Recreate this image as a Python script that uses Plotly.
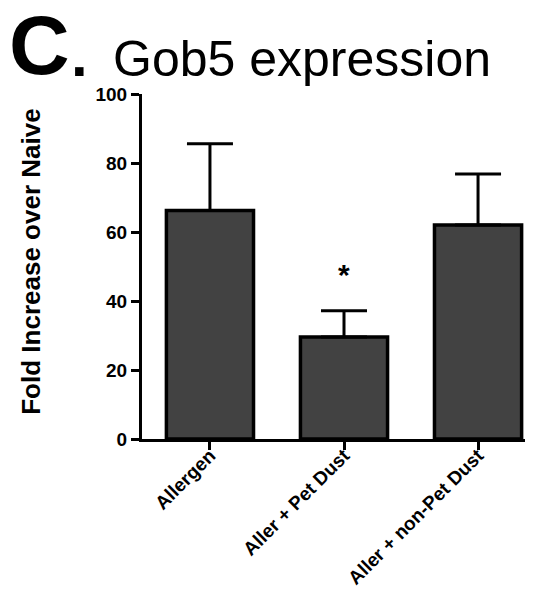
import plotly.graph_objects as go

categories = ["Allergen", "Aller + Pet Dust", "Aller + non-Pet Dust"]
means = [66.2, 29.6, 62.0]
errors = [19.4, 7.6, 14.8]
significance = ["", "*", ""]
y_ticks = [0, 20, 40, 60, 80, 100]

# page offset (body margin) in the browser
OX, OY = 8, 8
W, H = 525, 588
L, R, T, B = 134, 0, 86, 156.5

FONT = "Arial, Liberation Sans"
ASC = 0.905
DESC = 0.212

fig = go.Figure()
fig.add_trace(go.Bar(
    x=categories, y=means, width=0.65,
    marker=dict(color="#424242", line=dict(color="black", width=3.5)),
    error_y=dict(type="data", array=errors, arrayminus=[0] * len(errors),
                 symmetric=False, color="black", thickness=3, width=23),
    showlegend=False,
))

pw = W - L - R
ph = H - T - B

def px_x(p):
    return (p - OX - L) / pw

def px_y(p):
    return (H - B - (p - OY)) / ph

def top_for_baseline(baseline, size, pad=0):
    return baseline - pad - ASC * size

annotations = []
for c, m, e, s in zip(categories, means, errors, significance):
    if s:
        annotations.append(dict(x=c, y=m + e + 10.5, xref="x", yref="y", text=s,
                                showarrow=False, font=dict(size=30, color="black",
                                family=FONT, weight="bold")))

annotations += [
    dict(x=px_x(8), y=px_y(75 + DESC * 84), xref="paper", yref="paper",
         xanchor="left", yanchor="bottom", borderpad=0, height=80, valign="bottom",
         text="<b>C</b>", showarrow=False,
         font=dict(size=84, color="black", family=FONT)),
    dict(x=px_x(69.5), y=px_y(top_for_baseline(75, 60)), xref="paper", yref="paper",
         xanchor="left", yanchor="top", borderpad=0,
         text="<b>.</b>", showarrow=False,
         font=dict(size=60, color="black", family=FONT)),
    dict(x=px_x(112), y=px_y(top_for_baseline(75, 50)), xref="paper", yref="paper",
         xanchor="left", yanchor="top", borderpad=0,
         text="Gob5 expression", showarrow=False,
         font=dict(size=50, color="black", family=FONT)),
    dict(x=px_x(31), y=px_y(262), xref="paper", yref="paper", xanchor="center", yanchor="middle",
         text="<b>Fold Increase over Naive</b>", textangle=-90, showarrow=False,
         font=dict(size=26, color="black", family=FONT)),
]

fig.update_layout(
    width=W, height=H,
    margin=dict(l=L, r=R, t=T, b=B, autoexpand=False),
    paper_bgcolor="white", plot_bgcolor="white",
    annotations=annotations,
)
fig.update_xaxes(
    range=[-0.507, 2.41], showline=True, linecolor="black", linewidth=3,
    ticks="outside", ticklen=8, tickwidth=3, tickcolor="black",
    tickangle=-45, showgrid=False, zeroline=False, automargin=False,
    ticklabelstandoff=-13,
    tickfont=dict(size=19, color="black", family=FONT, weight="bold"),
)
fig.update_yaxes(
    range=[0, 100], tickvals=y_ticks, showline=True, linecolor="black", linewidth=3,
    ticks="outside", ticklen=8, tickwidth=3, tickcolor="black",
    showgrid=False, zeroline=False, automargin=False,
    tickfont=dict(size=19, color="black", family=FONT, weight="bold"),
)

fig.write_html("out.html")
